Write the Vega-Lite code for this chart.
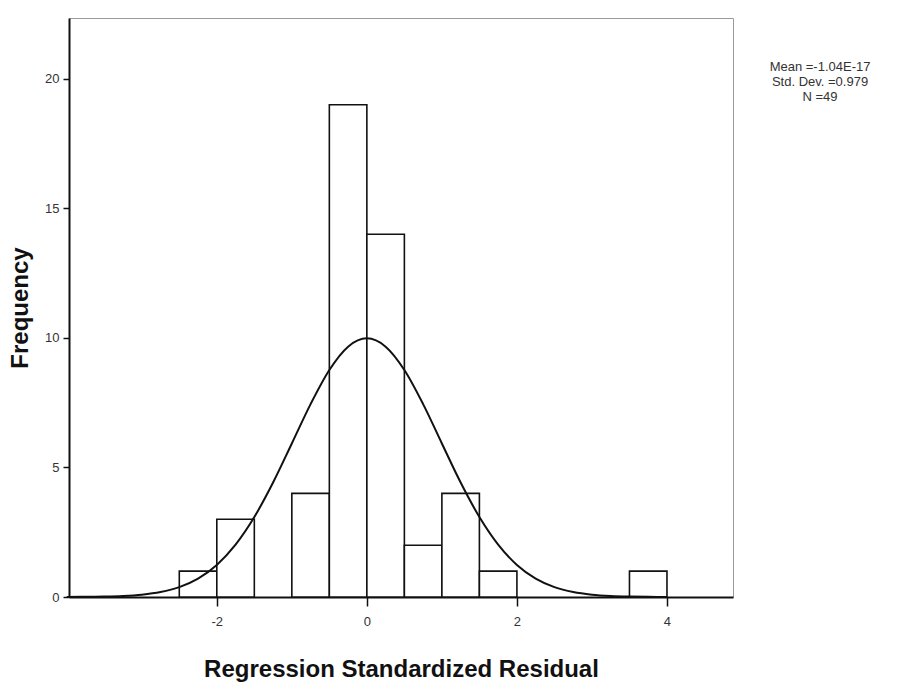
{
  "$schema": "https://vega.github.io/schema/vega-lite/v6.json",
  "width": 664,
  "height": 579,
  "autosize": {"type": "none"},
  "padding": {"left": 69, "top": 18, "right": 182, "bottom": 93},
  "background": "white",
  "config": {
    "view": {"stroke": "#9a9a9a", "strokeWidth": 1},
    "font": "Liberation Sans",
    "axis": {
      "grid": false,
      "domainColor": "#111",
      "domainWidth": 2,
      "tickColor": "#111",
      "tickWidth": 1.5,
      "labelFont": "Liberation Sans",
      "labelFontSize": 13,
      "labelColor": "#333",
      "titleFont": "Liberation Sans",
      "titleFontWeight": "bold",
      "titleFontSize": 24,
      "titleColor": "#111"
    }
  },
  "datasets": {
    "bins": [
      {"bin_start": -2.5, "bin_end": -2.0, "count": 1},
      {"bin_start": -2.0, "bin_end": -1.5, "count": 3},
      {"bin_start": -1.0, "bin_end": -0.5, "count": 4},
      {"bin_start": -0.5, "bin_end": 0.0, "count": 19},
      {"bin_start": 0.0, "bin_end": 0.5, "count": 14},
      {"bin_start": 0.5, "bin_end": 1.0, "count": 2},
      {"bin_start": 1.0, "bin_end": 1.5, "count": 4},
      {"bin_start": 1.5, "bin_end": 2.0, "count": 1},
      {"bin_start": 3.5, "bin_end": 4.0, "count": 1}
    ],
    "curve": [
      {"x": -4.0, "y": 0.0024},
      {"x": -3.75, "y": 0.0065},
      {"x": -3.5, "y": 0.0167},
      {"x": -3.25, "y": 0.0404},
      {"x": -3.0, "y": 0.0912},
      {"x": -2.75, "y": 0.193},
      {"x": -2.5, "y": 0.383},
      {"x": -2.25, "y": 0.712},
      {"x": -2.0, "y": 1.239},
      {"x": -1.75, "y": 2.021},
      {"x": -1.5, "y": 3.087},
      {"x": -1.25, "y": 4.419},
      {"x": -1.0, "y": 5.926},
      {"x": -0.75, "y": 7.445},
      {"x": -0.5, "y": 8.763},
      {"x": -0.25, "y": 9.664},
      {"x": 0.0, "y": 9.984},
      {"x": 0.25, "y": 9.664},
      {"x": 0.5, "y": 8.763},
      {"x": 0.75, "y": 7.445},
      {"x": 1.0, "y": 5.926},
      {"x": 1.25, "y": 4.419},
      {"x": 1.5, "y": 3.087},
      {"x": 1.75, "y": 2.021},
      {"x": 2.0, "y": 1.239},
      {"x": 2.25, "y": 0.712},
      {"x": 2.5, "y": 0.383},
      {"x": 2.75, "y": 0.193},
      {"x": 3.0, "y": 0.0912},
      {"x": 3.25, "y": 0.0404},
      {"x": 3.5, "y": 0.0167},
      {"x": 3.75, "y": 0.0065},
      {"x": 4.0, "y": 0.0024}
    ],
    "stats": [
      {"label": ["Mean =-1.04E-17", "Std. Dev. =0.979", "N =49"]}
    ]
  },
  "layer": [
    {
      "data": {"name": "bins"},
      "mark": {"type": "rect", "fill": "white", "stroke": "#111", "strokeWidth": 1.6},
      "encoding": {
        "x": {
          "field": "bin_start",
          "type": "quantitative",
          "scale": {"domain": [-3.97, 4.88], "nice": false, "zero": false},
          "axis": {
            "title": "Regression Standardized Residual",
            "values": [-2, 0, 2, 4],
            "labelExpr": "'' + datum.value",
            "tickSize": 9,
            "labelPadding": 9,
            "titlePadding": 29
          }
        },
        "x2": {"field": "bin_end"},
        "y": {
          "field": "count",
          "type": "quantitative",
          "scale": {"domain": [0, 22.35], "nice": false},
          "axis": {
            "title": "Frequency",
            "values": [0, 5, 10, 15, 20],
            "tickSize": 6,
            "labelPadding": 4,
            "titlePadding": 12
          }
        },
        "y2": {"datum": 0}
      }
    },
    {
      "data": {"name": "curve"},
      "mark": {"type": "line", "color": "#111", "strokeWidth": 2, "interpolate": "monotone"},
      "encoding": {
        "x": {"field": "x", "type": "quantitative"},
        "y": {"field": "y", "type": "quantitative"}
      }
    },
    {
      "data": {"name": "stats"},
      "mark": {"type": "text", "align": "center", "baseline": "middle", "fontSize": 13, "lineHeight": 15, "color": "#333", "font": "Liberation Sans"},
      "encoding": {
        "x": {"datum": 6.04},
        "y": {"datum": 20.46},
        "text": {"field": "label"}
      }
    }
  ]
}
